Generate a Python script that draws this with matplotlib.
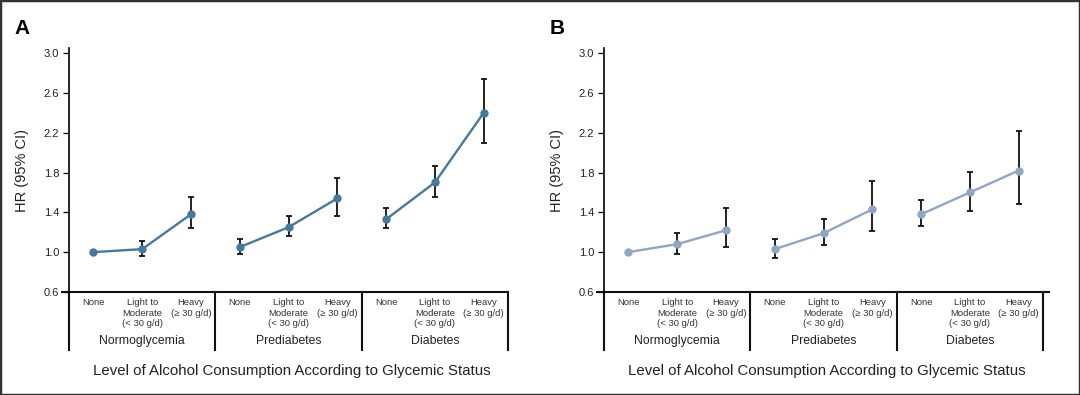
import numpy as np
import matplotlib
matplotlib.use("Agg")
import matplotlib.pyplot as plt
import matplotlib.transforms as mtransforms
from matplotlib.patches import Rectangle

plt.rcParams['font.family'] = ['Liberation Sans', 'DejaVu Sans']

# 数据：HR 与 95% CI
groups = ['Normoglycemia', 'Prediabetes', 'Diabetes']
levels = ['None', 'Light to\nModerate\n(< 30 g/d)', 'Heavy\n(\u2265 30 g/d)']

hr_a = [1.00, 1.03, 1.38, 1.05, 1.25, 1.54, 1.33, 1.70, 2.40]
lo_a = [np.nan, 0.96, 1.24, 0.98, 1.16, 1.36, 1.24, 1.55, 2.10]
hi_a = [np.nan, 1.11, 1.55, 1.13, 1.36, 1.75, 1.44, 1.87, 2.74]

hr_b = [1.00, 1.08, 1.22, 1.03, 1.19, 1.43, 1.38, 1.60, 1.82]
lo_b = [np.nan, 0.98, 1.05, 0.94, 1.07, 1.21, 1.26, 1.41, 1.48]
hi_b = [np.nan, 1.19, 1.44, 1.13, 1.33, 1.71, 1.52, 1.81, 2.22]

yticks = [0.6, 1.0, 1.4, 1.8, 2.2, 2.6, 3.0]
xlabel = 'Level of Alcohol Consumption According to Glycemic Status'


def draw_panel(ax, hr, lo, hi, color, right_ext):
    hr = np.array(hr); lo = np.array(lo); hi = np.array(hi)
    x = np.arange(len(hr))
    # error bars (black), only where CI exists
    m = ~np.isnan(lo)
    ax.errorbar(x[m], hr[m], yerr=[hr[m] - lo[m], hi[m] - hr[m]], fmt='none',
                ecolor='#111111', elinewidth=1.3, capsize=2.2, capthick=1.3, zorder=2)
    # one line per group
    for g in range(3):
        s = slice(g * 3, g * 3 + 3)
        ax.plot(x[s], hr[s], '-o', color=color, lw=1.7, ms=5, zorder=3)

    ax.set_xlim(-0.5, 8.5)
    ax.set_ylim(0.6, 3.05)
    ax.set_yticks(yticks)
    ax.set_yticklabels(['%.1f' % t for t in yticks], fontsize=8, color='#222222')
    ax.tick_params(axis='y', length=4, width=0.9, pad=3)
    ax.set_xticks([])
    for sp in ['top', 'right', 'bottom']:
        ax.spines[sp].set_visible(False)
    ax.spines['left'].set_linewidth(1.2)
    ax.text(-0.108, 0.5, 'HR (95% CI)', transform=ax.transAxes, rotation=90,
            ha='center', va='center', fontsize=10.5, color='#222222')

    trans = mtransforms.blended_transform_factory(ax.transData, ax.transAxes)
    # bottom axis line
    ax.plot([-0.016, 1 + right_ext], [0, 0], color='#111111', lw=1.5,
            transform=ax.transAxes, clip_on=False)
    # group separators
    for xs in [-0.5, 2.5, 5.5, 8.5]:
        ax.plot([xs, xs], [0, -0.238], color='#111111', lw=1.5,
                transform=trans, clip_on=False)
    # category labels
    for i in range(9):
        ax.text(i, -0.024, levels[i % 3], transform=trans, ha='center', va='top',
                fontsize=6.8, color='#333333', linespacing=1.25)
    for g, name in enumerate(groups):
        ax.text(g * 3 + 1, -0.20, name, transform=trans, ha='center', va='center',
                fontsize=8.8, color='#222222')
    ax.text(0.507, -0.324, xlabel, transform=ax.transAxes, ha='center',
            va='center', fontsize=10.8, color='#222222')


fig = plt.figure(figsize=(10.8, 3.95), dpi=100)
ax_a = fig.add_axes([0.0639, 0.261, 0.4065, 0.617])
ax_b = fig.add_axes([0.5593, 0.261, 0.4065, 0.617])

draw_panel(ax_a, hr_a, lo_a, hi_a, '#457a9c', 0.0)
draw_panel(ax_b, hr_b, lo_b, hi_b, '#8fa6c4', 0.014)

fig.text(0.0204, 0.929, 'A', fontsize=15, fontweight='bold', ha='center', va='center')
fig.text(0.516, 0.929, 'B', fontsize=15, fontweight='bold', ha='center', va='center')

# outer frame
fig.patches.append(Rectangle((0, 0), 1, 1, transform=fig.transFigure, fill=False,
                             edgecolor='#333333', linewidth=2.5))

fig.savefig('out.png', dpi=100)
